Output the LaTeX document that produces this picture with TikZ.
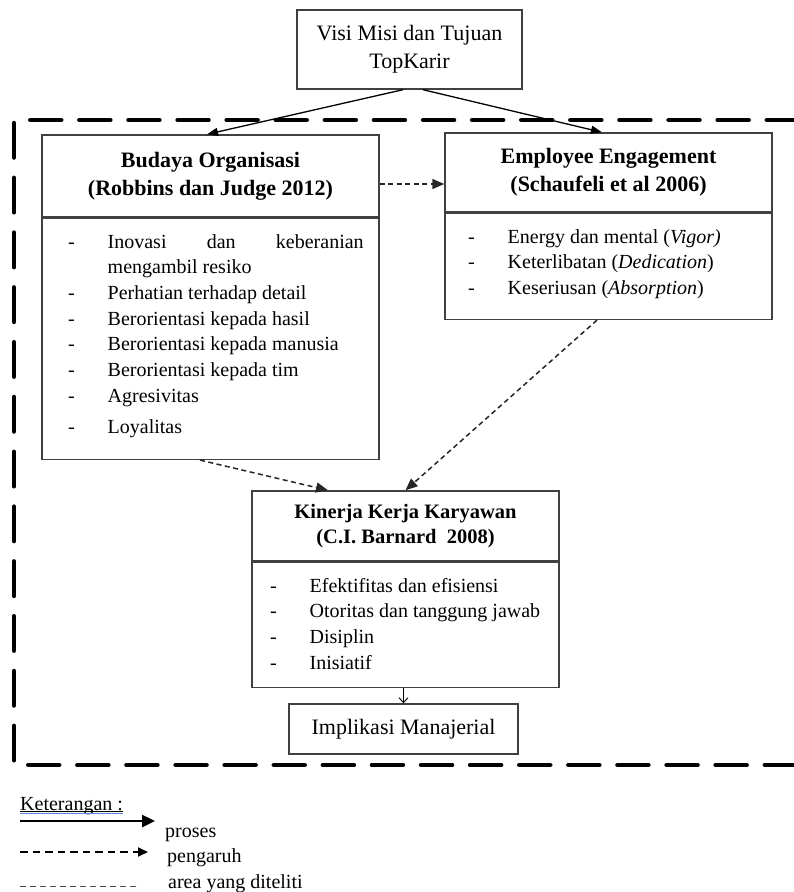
\documentclass[tikz,border=0pt]{standalone}
\usepackage{fontspec}
\setmainfont{Liberation Serif}
\usetikzlibrary{arrows.meta}

% type sizes
\newcommand\hdrfont{\fontsize{22}{28}\selectfont}
\newcommand\kinfont{\fontsize{20.5}{25}\selectfont}
\newcommand\itmfont{\fontsize{20}{25.7}\selectfont}
% dash bullet with a fixed hanging indent
\newcommand\dashitem{\makebox[39.5pt][l]{-}}

\definecolor{boxline}{gray}{0.25}
\definecolor{markblue}{RGB}{90,130,220}

\begin{document}
\begin{tikzpicture}[x=1pt,y=-1pt,
  box/.style={draw=boxline, line width=1.4pt, rectangle, inner sep=0pt, align=center},
  list/.style={anchor=base west, inner sep=0pt, font=\itmfont},
  flow/.style={draw=black, line width=1.3pt, -{Triangle[length=11pt,width=8pt]}},
  infl/.style={draw=black!85, line width=1.5pt, dash pattern=on 5pt off 3.5pt, -{Triangle[length=12pt,width=10pt]}},
  border/.style={line width=4.5pt, line cap=round},
  legtext/.style={anchor=base west, inner sep=0pt, font=\itmfont}]
\useasboundingbox (0,0) rectangle (794,892);

% research area frame (open on the right)
\draw[border, dash pattern=on 34.5pt off 20.3pt] (14,123) -- (14,763);
\draw[border, dash pattern=on 31pt off 18.1pt, dash phase=32.85pt] (14,120) -- (794,120);
\draw[border, dash pattern=on 31pt off 18.1pt, dash phase=34.85pt] (14,765) -- (794,765);

% boxes
\node[box, minimum width=225pt, minimum height=79pt, font=\hdrfont] (visi) at (409.5,49.5)
  {Visi Misi dan Tujuan\\TopKarir};

\node[box, minimum width=337pt, minimum height=82pt, font=\hdrfont\bfseries] (budayaH) at (210.5,176)
  {Budaya Organisasi\\(Robbins dan Judge 2012)};
\node[box, minimum width=337pt, minimum height=241pt, anchor=north] (budayaB) at (budayaH.south) {};

\node[box, minimum width=327pt, minimum height=79pt, font=\hdrfont\bfseries] (engH) at (608.5,172.5)
  {Employee Engagement\\(Schaufeli et al 2006)};
\node[box, minimum width=327pt, minimum height=106pt, anchor=north] (engB) at (engH.south) {};

\node[box, minimum width=307pt, minimum height=70pt, font=\kinfont\bfseries] (kinH) at (405.5,526)
  {Kinerja Kerja Karyawan\\(C.I. Barnard~~2008)};
\node[box, minimum width=307pt, minimum height=125pt, anchor=north] (kinB) at (kinH.south) {};

\node[box, minimum width=229pt, minimum height=50pt, font=\hdrfont] (impl) at (403.5,729)
  {Implikasi Manajerial};

% item lists
\node[list] (budayaList) at (68,248) {\begin{tabular}[t]{@{}l@{}}
\dashitem\hbox to 256pt{Inovasi\hfill dan\hfill keberanian}\\
\hspace{39.5pt}mengambil resiko\\
\dashitem Perhatian terhadap detail\\
\dashitem Berorientasi kepada hasil\\
\dashitem Berorientasi kepada manusia\\
\dashitem Berorientasi kepada tim\\
\dashitem Agresivitas\\[6pt]
\dashitem Loyalitas
\end{tabular}};

\node[list] (engList) at (468,243) {\begin{tabular}[t]{@{}l@{}}
\dashitem Energy dan mental (\textit{Vigor)}\\
\dashitem Keterlibatan (\textit{Dedication})\\
\dashitem Keseriusan (\textit{Absorption})
\end{tabular}};

\node[list] (kinList) at (270,592) {\begin{tabular}[t]{@{}l@{}}
\dashitem Efektifitas dan efisiensi\\
\dashitem Otoritas dan tanggung jawab\\
\dashitem Disiplin\\
\dashitem Inisiatif
\end{tabular}};

% connectors
\draw[flow] ([xshift=-6.5pt]visi.south) -- ([xshift=-3.5pt]budayaH.north);
\draw[flow] ([xshift=13.5pt]visi.south) -- ([xshift=-6.5pt]engH.north);

\coordinate (infA) at ([yshift=-8pt]budayaH.east);
\draw[infl] (infA) -- (infA -| engH.west);
\draw[infl] ([xshift=-10.5pt]budayaB.south) -- ([xshift=-77.5pt]kinH.north);
\draw[infl] ([xshift=-11.5pt]engB.south) -- (kinH.north);
\draw[line width=0.9pt, -{Straight Barb[length=5pt,width=9pt]}] (kinB.south -| impl.north) -- (impl.north);

% legend
\node[legtext] (ket) at (20,810) {Keterangan :};
\draw[line width=0.7pt] ([yshift=-1.5pt]ket.base west) -- ([yshift=-1.5pt]ket.base east);
\draw[markblue, line width=1.2pt] ([yshift=-3.5pt]ket.base west) -- ([yshift=-3.5pt]ket.base east);

\coordinate (lgSolidA) at (20,821);
\coordinate (lgSolidB) at (155,821);
\draw[line width=2.5pt, -{Triangle[length=13pt,width=12pt]}] (lgSolidA) -- (lgSolidB);
\node[legtext] (lgProses) at (165,837) {proses};

\coordinate (lgDashA) at (20,852);
\coordinate (lgDashB) at (148,852);
\draw[line width=1.8pt, dash pattern=on 7.5pt off 5pt, -{Triangle[length=10pt,width=9pt]}] (lgDashA) -- (lgDashB);
\node[legtext] (lgPeng) at (167,862) {pengaruh};

\coordinate (lgAreaA) at (20,886);
\coordinate (lgAreaB) at (140,886);
\draw[black!70, line width=0.8pt, dash pattern=on 6pt off 4pt] (lgAreaA) -- (lgAreaB);
\node[legtext] (lgArea) at (168,888) {area yang diteliti};
\end{tikzpicture}
\end{document}
